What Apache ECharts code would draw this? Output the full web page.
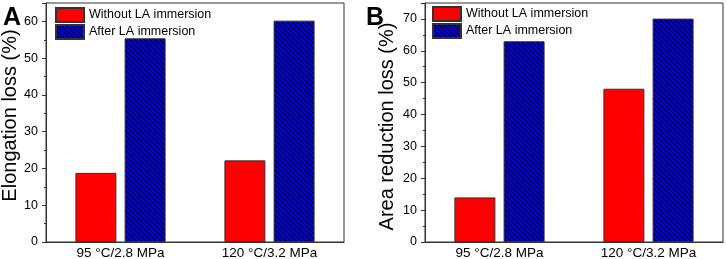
<!DOCTYPE html>
<html>
<head>
<meta charset="utf-8">
<script src="https://cdn.jsdelivr.net/npm/echarts@6/dist/echarts.min.js"></script>
<style>
  html, body { margin: 0; padding: 0; background: #fff; }
  #chart { width: 726px; height: 259px; }
</style>
</head>
<body>
<div id="chart"></div>
<script>
// data
var categories = ['95 °C/2.8 MPa', '120 °C/3.2 MPa']
var elongWithout = [18.8, 22.2]
var elongAfter = [55.4, 60.2]
var areaWithout = [14.0, 48.1]
var areaAfter = [63.0, 70.1]
var seriesNames = ['Without LA immersion', 'After LA immersion']

// hatch pattern for the blue bars
function makeHatch() {
  var c = document.createElement('canvas')
  c.width = 5
  c.height = 5
  var ctx = c.getContext('2d')
  ctx.fillStyle = '#0000ff'
  ctx.fillRect(0, 0, 5, 5)
  ctx.strokeStyle = '#000033'
  ctx.lineWidth = 1.6
  ctx.beginPath()
  ctx.moveTo(-1, -1); ctx.lineTo(6, 6)
  ctx.moveTo(-1, 4); ctx.lineTo(1, 6)
  ctx.moveTo(4, -1); ctx.lineTo(6, 1)
  ctx.stroke()
  return c
}
var hatch = makeHatch()

var font = 'Arial, "Liberation Sans", sans-serif'

function yAxisCfg(idx, name, max, gap, pad) {
  return {
    gridIndex: idx,
    type: 'value',
    min: 0,
    max: max,
    interval: 10,
    name: name,
    nameLocation: 'middle',
    nameGap: gap,
    nameTextStyle: { fontSize: 20, color: '#000', fontFamily: font, padding: pad },
    axisLine: { show: true, lineStyle: { color: '#333', width: 1 } },
    axisTick: { show: true, inside: false, length: 4, lineStyle: { color: '#333' } },
    minorTick: { show: true, splitNumber: 2, length: 2, lineStyle: { color: '#333' } },
    splitLine: { show: false },
    axisLabel: { fontSize: 12.5, color: '#000', fontFamily: font, margin: 8, showMaxLabel: false }
  }
}
function xAxisCfg(idx) {
  return {
    gridIndex: idx,
    type: 'category',
    data: categories,
    axisLine: { show: true, lineStyle: { color: '#333', width: 1 } },
    axisTick: { show: false },
    axisLabel: { fontSize: 13.5, color: '#000', fontFamily: font, margin: 4 }
  }
}
function barSeries(idx, name, data, color) {
  return {
    name: name,
    type: 'bar',
    xAxisIndex: idx,
    yAxisIndex: idx,
    barWidth: 41,
    barGap: '20%',
    data: data,
    itemStyle: { color: color, borderColor: '#333', borderWidth: 1 }
  }
}
function legendCfg(left, top) {
  return {
    left: left,
    top: top,
    padding: 0,
    orient: 'vertical',
    itemWidth: 28,
    itemHeight: 14,
    itemGap: 1,
    icon: 'rect',
    data: seriesNames,
    textStyle: { fontSize: 12.5, color: '#000', fontFamily: font }
  }
}

var chart = echarts.init(document.getElementById('chart'))
var option = {
  backgroundColor: '#fff',
  animation: false,
  grid: [
    { left: 46, top: 3, width: 298, height: 239, show: true, borderColor: '#333', borderWidth: 1, outerBoundsMode: 'none', containLabel: false },
    { left: 425, top: 3, width: 298, height: 239, show: true, borderColor: '#333', borderWidth: 1, outerBoundsMode: 'none', containLabel: false }
  ],
  legend: [legendCfg(55, 7), legendCfg(432, 6)],
  xAxis: [xAxisCfg(0), xAxisCfg(1)],
  yAxis: [
    yAxisCfg(0, 'Elongation loss (%)', 65, 26, [0, 0, 0, 14]),
    yAxisCfg(1, 'Area reduction loss (%)', 75, 28, [0, 8, 0, 0])
  ],
  series: [
    barSeries(0, seriesNames[0], elongWithout, '#ff0000'),
    barSeries(0, seriesNames[1], elongAfter, { image: hatch, repeat: 'repeat' }),
    barSeries(1, seriesNames[0], areaWithout, '#ff0000'),
    barSeries(1, seriesNames[1], areaAfter, { image: hatch, repeat: 'repeat' })
  ],
  graphic: [
    { type: 'text', left: 3, top: 6, style: { text: 'A', font: 'bold 25px ' + font, fill: '#000' } },
    { type: 'text', left: 366, top: 6, style: { text: 'B', font: 'bold 25px ' + font, fill: '#000' } }
  ]
}
chart.setOption(option)
</script>
</body>
</html>
